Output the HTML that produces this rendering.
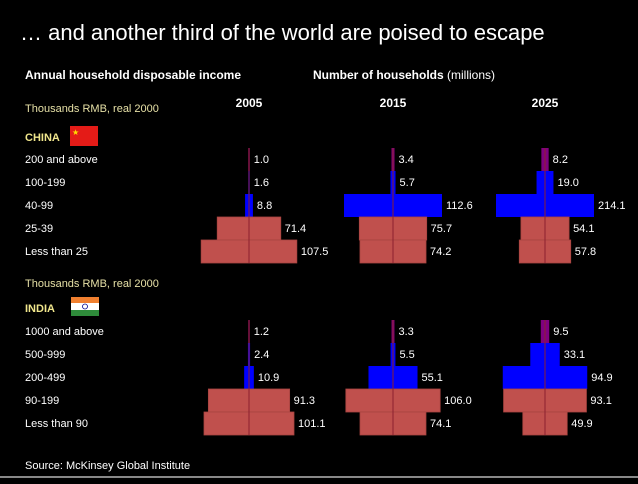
<!DOCTYPE html>
<html><head><meta charset="utf-8"><style>
body{margin:0;background:#000;width:638px;height:479px;overflow:hidden;font-family:"Liberation Sans",sans-serif;}
svg text{font-family:"Liberation Sans",sans-serif;}
</style></head><body>
<svg id="c" width="638" height="479">
<text x="20" y="40" fill="#fff" font-size="22">… and another third of the world are poised to escape</text>
<text x="25" y="79" fill="#fff" font-size="12" font-weight="bold">Annual household disposable income</text>
<text x="313" y="79" fill="#fff" font-size="12"><tspan font-weight="bold">Number of households</tspan> (millions)</text>
<text x="25" y="112" fill="#e6e0a6" font-size="11">Thousands RMB, real 2000</text>
<text x="25" y="141" fill="#f0e68c" font-size="11" font-weight="bold">CHINA</text>
<g><rect x="70" y="126" width="28" height="20" fill="#e41b17"/><text x="72" y="135" fill="#ffde00" font-size="8">★</text></g>
<text x="25" y="287" fill="#e6e0a6" font-size="11">Thousands RMB, real 2000</text>
<text x="25" y="312" fill="#f0e68c" font-size="11" font-weight="bold">INDIA</text>
<g><rect x="71" y="297" width="28" height="6" fill="#f08030"/><rect x="71" y="303" width="28" height="7" fill="#fff"/><rect x="71" y="310" width="28" height="6" fill="#2e8b3a"/><circle cx="85" cy="306.5" r="2.5" fill="none" stroke="#00008b" stroke-width="0.8"/></g>
<text x="25" y="469" fill="#fff" font-size="11">Source: McKinsey Global Institute</text>
<line x1="0" y1="477" x2="638" y2="477" stroke="#888" stroke-width="2"/>
<g id="plot"></g>
</svg>
<script>
const years = ["2005","2015","2025"];
const chinaCats = ["200 and above","100-199","40-99","25-39","Less than 25"];
const chinaVals = [[1.0,1.6,8.8,71.4,107.5],[3.4,5.7,112.6,75.7,74.2],[8.2,19.0,214.1,54.1,57.8]];
const indiaCats = ["1000 and above","500-999","200-499","90-199","Less than 90"];
const indiaVals = [[1.2,2.4,10.9,91.3,101.1],[3.3,5.5,55.1,106.0,74.1],[9.5,33.1,94.9,93.1,49.9]];

const NS="http://www.w3.org/2000/svg";
const g=document.getElementById('plot');
const centers=[249,393,545];
const scale=0.89, cap=98;
const colors=["#800080","#0000ff","#0000ff","#c0504d","#c0504d"];
function w(v){return Math.max(1.5,Math.min(cap,v*scale));}
function mk(t,a){const e=document.createElementNS(NS,t);for(const k in a)e.setAttribute(k,a[k]);g.appendChild(e);return e;}
years.forEach((y,i)=>{
  const t=mk('text',{x:centers[i],y:107,fill:'#fff','font-size':12,'font-weight':'bold','text-anchor':'middle'});
  t.textContent=y;
  
  
});
function panel(cats,vals,top,name){
  const rowH=23;
  cats.forEach((c,r)=>{
    const t=mk('text',{x:25,y:top+r*rowH+15,fill:'#fff','font-size':11});
    t.textContent=c;
    
    
  });
  vals.forEach((arr,i)=>{
    const cx=centers[i];
    arr.forEach((v,r)=>{
      const bw=w(v), yy=top+r*rowH;
      const b=mk('rect',{x:cx-bw/2,y:yy,width:bw,height:rowH,fill:colors[r],stroke:r>=3?'#a84440':'none','stroke-width':0.8});
      
      
      const lx=Math.max(cx+bw/2+4,cx+4);
      const t=mk('text',{x:lx,y:yy+15,fill:'#fff','font-size':11});
      t.textContent=v.toFixed(1);
      
      
    });
    const ln=mk('line',{x1:cx,y1:top,x2:cx,y2:top+5*rowH,stroke:'#8b2030','stroke-width':1});
    
    
  });
}
panel(chinaCats,chinaVals,148,'china');
panel(indiaCats,indiaVals,320,'india');
</script>
</body></html>
